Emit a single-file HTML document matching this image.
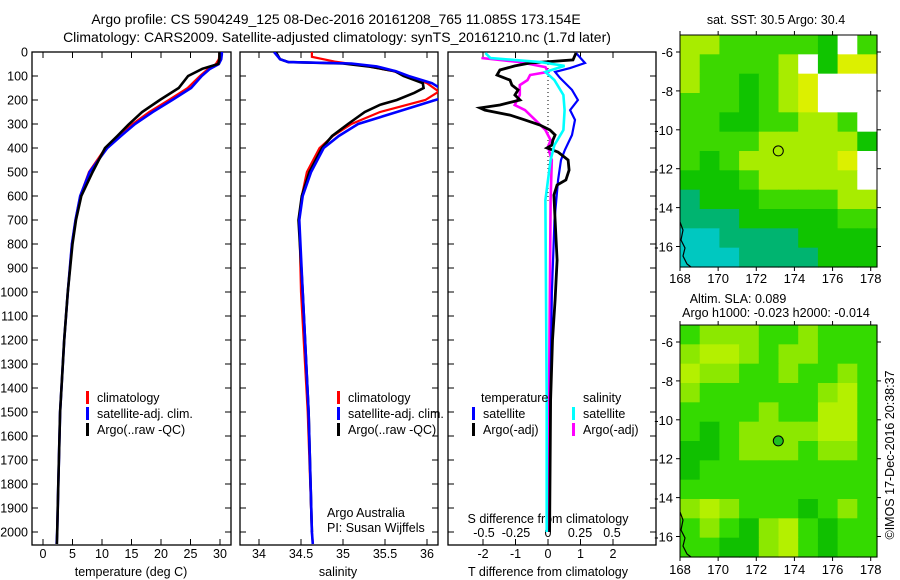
<!DOCTYPE html>
<html><head><meta charset="utf-8">
<style>
html,body{margin:0;padding:0;background:#fff;}
svg{display:block;font-family:"Liberation Sans",sans-serif;}
text{font-size:12.5px;fill:#000;}
</style></head>
<body>
<svg id="fig" width="900" height="580" viewBox="0 0 900 580" xmlns="http://www.w3.org/2000/svg">
<text x="336" y="24" text-anchor="middle" style="font-size:14px">Argo profile: CS 5904249_125 08-Dec-2016 20161208_765 11.085S 173.154E</text>
<text x="337" y="42" text-anchor="middle" style="font-size:14px">Climatology: CARS2009. Satellite-adjusted climatology: synTS_20161210.nc (1.7d later)</text>
<text x="776" y="24" text-anchor="middle">sat. SST: 30.5 Argo: 30.4</text>
<text x="738" y="303" text-anchor="middle">Altim. SLA: 0.089</text>
<text x="776" y="317" text-anchor="middle">Argo h1000: -0.023 h2000: -0.014</text>
<text transform="translate(894,455) rotate(-90)" text-anchor="middle">©IMOS 17-Dec-2016 20:38:37</text>
<g id="g"></g>
</svg>
<script>
// ---- data ----
const depthTicks=[0,100,200,300,400,500,600,700,800,900,1000,1100,1200,1300,1400,1500,1600,1700,1800,1900,2000];
const tempTicks=[0,5,10,15,20,25,30];
const salTicks=[34,34.5,35,35.5,36];
const salTickLabels=["34","34.5","35","35.5","36"];
const tdTicks=[-2,-1,0,1,2];
const sdTicks=[-0.5,-0.25,0,0.25,0.5];
const sdTickLabels=["-0.5","-0.25","0","0.25","0.5"];

const tDepth=[0,10,30,50,70,100,150,200,250,300,350,400,500,600,700,800,1000,1200,1500,1800,2000,2050];
const tClim=[29.9,29.9,29.8,29.3,28.0,26.6,24.5,21.3,18.0,15.2,12.8,10.6,7.8,6.3,5.5,4.9,4.2,3.6,2.9,2.6,2.4,2.3];
const tSat=[30.3,30.3,30.2,29.8,28.3,26.9,25.1,21.9,18.6,15.6,13.2,10.9,7.9,6.3,5.5,4.9,4.2,3.6,2.9,2.6,2.4,2.3];
const tArgo=[29.9,29.9,29.9,29.7,27.0,24.6,23.0,19.8,16.8,14.6,12.6,10.5,8.4,6.5,5.6,5.0,4.2,3.6,2.9,2.6,2.4,2.35];

const sClimDepth=[0,20,40,50,60,80,100,130,165,200,250,300,350,400,500,600,700,1000,1500,2000,2050];
const sClim=[34.63,34.63,34.9,35.1,35.3,35.6,35.77,36.0,36.14,35.98,35.44,35.10,34.88,34.72,34.57,34.51,34.48,34.50,34.58,34.63,34.64];
const sSatDepth=[0,30,42,48,60,80,100,130,160,190,200,250,300,350,400,500,600,700,1000,1500,2000,2050];
const sSat=[34.18,34.25,34.35,35.1,35.4,35.63,35.78,36.06,36.2,36.2,36.1,35.64,35.18,34.95,34.77,34.62,34.52,34.48,34.52,34.59,34.63,34.64];
const sArgoDepth=[0,30,42,48,60,80,100,130,150,170,200,220,250,300,350,400,500,600,700,1000,1500,2000];
const sArgo=[34.2,34.25,34.35,35.0,35.3,35.62,35.72,35.95,35.96,35.85,35.64,35.44,35.26,35.06,34.87,34.75,34.60,34.51,34.47,34.52,34.59,34.63];

const dTArgoDepth=[4,33,46,58,75,96,117,138,158,179,200,221,233,242,263,283,304,325,346,367,388,400,417,450,492,533,554,596,700,867,1033,1200,1450,2000];
const dTArgo=[0.86,0.77,-0.55,-1.02,-1.48,-1.57,-1.17,-1.11,-0.92,-1.02,-0.86,-1.48,-2.09,-1.94,-1.17,-0.71,-0.25,0.06,0.22,0.15,0.12,-0.03,0.31,0.62,0.65,0.55,0.28,0.18,0.22,0.28,0.22,0.14,0.08,0.05];
const dTSatDepth=[4,46,67,83,108,158,200,242,283,346,408,450,533,700,1000,1450,2000];
const dTSat=[0.86,1.14,0.68,0.22,0.37,0.74,0.92,0.68,0.83,0.74,0.52,0.40,0.31,0.2,0.12,0.07,0.05];
const dSSatDepth=[4,25,42,58,83,117,179,242,325,388,450,617,1450,2000];
const dSSat=[-0.49,-0.45,-0.06,0.13,-0.02,0.05,0.12,0.13,0.12,0.05,0.02,-0.02,-0.01,-0.01];
const dSArgoDepth=[25,42,63,83,96,117,138,179,221,242,283,325,367,396,450,617,2000];
const dSArgo=[-0.52,-0.22,-0.02,0,-0.14,-0.16,-0.22,-0.22,-0.26,-0.18,-0.10,-0.02,0.02,0,0.03,0.02,0];

const lonTicks=[168,170,172,174,176,178];
const latTicks=[-6,-8,-10,-12,-14,-16];
const sstPalette=["#00c8c0","#00b470","#10c400","#3cd800","#a8ec00","#dcf000","#f0d800"];
const sstGrid=[
[4,4,3,3,3,3,3,2,9,3],
[4,3,3,3,3,4,9,2,5,5],
[4,3,3,2,3,4,5,9,9,9],
[3,3,3,2,3,4,5,9,9,9],
[3,3,2,2,3,3,4,4,3,9],
[3,3,3,3,4,4,4,4,4,2],
[3,2,3,4,4,4,4,4,5,9],
[2,2,2,3,4,4,4,4,4,9],
[1,2,2,2,3,3,3,3,4,4],
[1,1,1,2,2,2,2,2,3,3],
[0,0,1,1,1,1,2,2,2,2],
[0,0,0,1,1,1,1,2,2,2]];
const slaPalette=["#10c000","#34da00","#8ce800","#b4f000"];
const slaGrid=[
[1,2,2,2,1,1,2,1,1,1],
[2,3,3,2,1,2,2,1,1,1],
[3,2,2,1,1,2,1,1,2,1],
[2,1,1,1,1,1,1,2,3,1],
[1,1,1,1,2,1,1,3,3,1],
[1,0,1,2,2,2,2,3,3,1],
[0,0,1,2,2,2,1,2,2,1],
[0,1,1,1,1,1,1,1,1,1],
[1,1,1,1,1,1,1,1,1,1],
[2,3,2,1,1,1,0,1,2,1],
[1,2,1,0,2,3,1,0,1,1],
[1,1,0,0,2,3,1,0,1,1]];
const argoLon=173.154, argoLat=-11.085;

// ---- helpers ----
const NS="http://www.w3.org/2000/svg";
const G=document.getElementById('g');
function mk(tag,attrs,parent){const e=document.createElementNS(NS,tag);for(const k in attrs)e.setAttribute(k,attrs[k]);(parent||G).appendChild(e);return e;}
const TOP=52,BOT=545;
const yD=d=>TOP+d*0.24;
const xT=t=>43+t*5.9;
const xS=s=>259+(s-34)*84;
const xTD=v=>548+v*32.5;
const xSD=v=>548+v*128;

function panel(name,x0,x1){
  const r=mk('rect',{x:x0,y:TOP,width:x1-x0,height:BOT-TOP,fill:'none',stroke:'#000','stroke-width':1.3});
  
  
  depthTicks.forEach(d=>{
    const t1=mk('line',{x1:x0,x2:x0+6,y1:yD(d),y2:yD(d),stroke:'#000'});
    
    
    const t2=mk('line',{x1:x1-6,x2:x1,y1:yD(d),y2:yD(d),stroke:'#000'});
    
    
  });
  const cp=mk('clipPath',{id:'clip-'+name});
  mk('rect',{x:x0,y:TOP,width:x1-x0,height:BOT-TOP},cp);
}
function xticks(name,vals,labels,fx){
  vals.forEach((v,i)=>{
    const x=fx(v);
    const a=mk('line',{x1:x,x2:x,y1:BOT,y2:BOT-6,stroke:'#000'});
    
    
    const b=mk('line',{x1:x,x2:x,y1:TOP,y2:TOP+6,stroke:'#000'});
    
    
    const t=mk('text',{x:x,y:558,'text-anchor':'middle'});
    t.textContent=labels?labels[i]:String(v);
    
    
  });
}
function line(name,panelName,depths,vals,fx,color,w){
  const pts=depths.map((d,i)=>fx(vals[i]).toFixed(1)+','+yD(d).toFixed(1)).join(' ');
  const p=mk('polyline',{points:pts,fill:'none',stroke:color,'stroke-width':w||2.6,'stroke-linejoin':'miter','clip-path':'url(#clip-'+panelName+')'});
  
  
}
function label(txt,x,y,name,anchor){
  const t=mk('text',{x:x,y:y,'text-anchor':anchor||'start'});
  t.textContent=txt;
  
  
}
function legendItem(x,y,color,txt,name){
  const b=mk('rect',{x:x,y:y-11,width:3,height:13,fill:color});
  
  
  label(txt,x+11,y,name);
}

// ---- panel 1: temperature ----
panel('temp-panel',32,231);
depthTicks.forEach(d=>{
  const t=mk('text',{x:28,y:yD(d)+4.5,'text-anchor':'end'});
  t.textContent=String(d);
  
  
});
xticks('temp-axis',tempTicks,null,xT);
label('temperature (deg C)',131,576,'temp-axis-title','middle');
line('temp-climatology-line','temp-panel',tDepth,tClim,xT,'#ff0000',2.2);
line('temp-satellite-line','temp-panel',tDepth,tSat,xT,'#0000ff',2.6);
line('temp-argo-line','temp-panel',tDepth,tArgo,xT,'#000000',2.6);
legendItem(86,402,'#ff0000','climatology','temp-legend-climatology');
legendItem(86,418,'#0000ff','satellite-adj. clim.','temp-legend-satellite');
legendItem(86,434,'#000000','Argo(..raw -QC)','temp-legend-argo');

// ---- panel 2: salinity ----
panel('sal-panel',240,438);
xticks('sal-axis',salTicks,salTickLabels,xS);
label('salinity',338,576,'sal-axis-title','middle');
line('sal-climatology-line','sal-panel',sClimDepth,sClim,xS,'#ff0000',2.2);
line('sal-argo-line','sal-panel',sArgoDepth,sArgo,xS,'#000000',2.6);
line('sal-satellite-line','sal-panel',sSatDepth,sSat,xS,'#0000ff',2.6);
legendItem(337,402,'#ff0000','climatology','sal-legend-climatology');
legendItem(337,418,'#0000ff','satellite-adj. clim.','sal-legend-satellite');
legendItem(337,434,'#000000','Argo(..raw -QC)','sal-legend-argo');
label('Argo Australia',327,517,'argo-australia-label');
label('PI: Susan Wijffels',327,532,'pi-label');

// ---- panel 3: differences ----
panel('diff-panel',448,656);
const z=mk('line',{x1:548,x2:548,y1:TOP,y2:yD(620),stroke:'#000','stroke-dasharray':'1,3'});


tdTicks.forEach(v=>{
  const x=xTD(v);
  const a=mk('line',{x1:x,x2:x,y1:BOT,y2:BOT-6,stroke:'#000'});
  
  
  const b=mk('line',{x1:x,x2:x,y1:TOP,y2:TOP+6,stroke:'#000'});
  
  
  const t=mk('text',{x:x,y:558,'text-anchor':'middle'});
  t.textContent=String(v);
  
  
});
sdTicks.forEach((v,i)=>{
  const t=mk('text',{x:xSD(v),y:537,'text-anchor':'middle'});
  t.textContent=sdTickLabels[i];
  
  
});
label('S difference from climatology',548,523,'sdiff-axis-title','middle');
label('T difference from climatology',548,576,'tdiff-axis-title','middle');
line('sdiff-argo-line','diff-panel',dSArgoDepth,dSArgo,xSD,'#ff00ff',2.6);
line('tdiff-satellite-line','diff-panel',dTSatDepth,dTSat,xTD,'#0000ff',2.2);
line('tdiff-argo-line','diff-panel',dTArgoDepth,dTArgo,xTD,'#000000',2.8);
line('sdiff-satellite-line','diff-panel',dSSatDepth,dSSat,xSD,'#00ffff',2.6);
label('temperature',481,402,'diff-legend-temperature-header');
label('salinity',583,402,'diff-legend-salinity-header');
legendItem(472,418,'#0000ff','satellite','diff-legend-t-satellite');
legendItem(472,434,'#000000','Argo(-adj)','diff-legend-t-argo');
legendItem(572,418,'#00ffff','satellite','diff-legend-s-satellite');
legendItem(572,434,'#ff00ff','Argo(-adj)','diff-legend-s-argo');

// ---- maps ----
function map(name,y0,y1,grid,pal,lonLabelY,filledMarker){
  const x0=680,x1=877;
  const lon=l=>680+(l-168)*19.07;
  const lat0=(y0===35)?52:342;
  const lat=l=>lat0+(-6-l)*19.45;
  const rows=grid.length,cols=grid[0].length;
  const cw=(x1-x0)/cols,ch=(y1-y0)/rows;
  grid.forEach((row,r)=>row.forEach((v,c)=>{
    const cell=mk('rect',{x:(x0+c*cw).toFixed(2),y:(y0+r*ch).toFixed(2),width:(cw+0.6).toFixed(2),height:(ch+0.6).toFixed(2),fill:v===9?'#ffffff':pal[v]});
    
    
  }));
  const fr=mk('rect',{x:x0,y:y0,width:x1-x0,height:y1-y0,fill:'none',stroke:'#000','stroke-width':1});
  
  
  lonTicks.forEach(l=>{
    const x=lon(l);
    const a=mk('line',{x1:x,x2:x,y1:y0,y2:y0-4,stroke:'#000'});
    
    
    const b=mk('line',{x1:x,x2:x,y1:y1,y2:y1+4,stroke:'#000'});
    
    
    const t=mk('text',{x:x,y:lonLabelY,'text-anchor':'middle',style:'font-size:13px'});
    t.textContent=String(l);
    
    
  });
  latTicks.forEach(l=>{
    const y=lat(l);
    const a=mk('line',{x1:x0,x2:x0-4,y1:y,y2:y,stroke:'#000'});
    
    
    const b=mk('line',{x1:x1,x2:x1+4,y1:y,y2:y,stroke:'#000'});
    
    
    const t=mk('text',{x:673,y:y+5,'text-anchor':'end',style:'font-size:13px'});
    t.textContent=String(l);
    
    
  });
  const m=mk('circle',{cx:lon(argoLon),cy:lat(argoLat),r:5,fill:filledMarker?'#20c020':'none',stroke:'#000','stroke-width':1});
  
  
  const coast=mk('path',{d:`M${x0} ${y1-45} l3 8 -2 10 4 8 -2 8 4 8 4 3`,fill:'none',stroke:'#000','stroke-width':1.2});
  
  
}
map('sst-map',35,267,sstGrid,sstPalette,283,false);
map('sla-map',325,557,slaGrid,slaPalette,574,true);
</script>
</body></html>
